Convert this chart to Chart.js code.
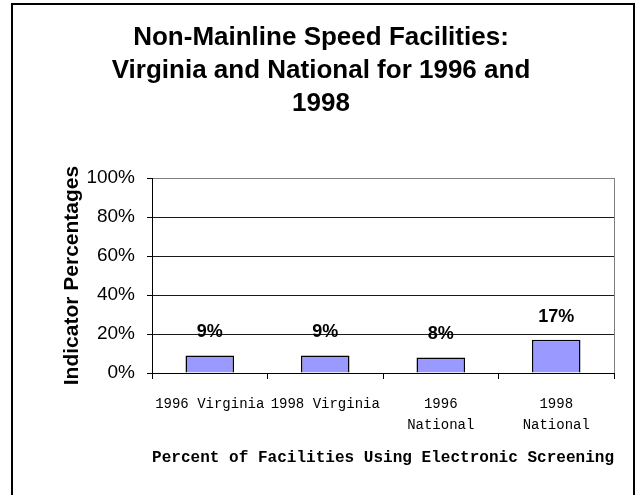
<!DOCTYPE html>
<html>
<head>
<meta charset="utf-8">
<title>Non-Mainline Speed Facilities</title>
<script src="https://cdn.jsdelivr.net/npm/chart.js@4.4.1/dist/chart.umd.min.js"></script>
<style>
    html, body { margin: 0; padding: 0; background: #ffffff; }
    #wrap { width: 638px; height: 495px; }
</style>
</head>
<body>
<div id="wrap"><canvas id="chart" width="638" height="495"></canvas></div>
<script>
// Data
const categories = [['1996 Virginia'], ['1998 Virginia'], ['1996', 'National'], ['1998', 'National']];
const shares = [9, 9, 8, 17];
const shareLabels = ['9%', '9%', '8%', '17%'];
const yTicks = [0, 20, 40, 60, 80, 100];

const titleLines = ['Non-Mainline Speed Facilities:', 'Virginia and National for 1996 and', '1998'];

// Outer frame and right edge of the plot area
const framePlugin = {
    id: 'frame',
    beforeDraw(chart) {
        const ctx = chart.ctx;
        ctx.save();
        ctx.fillStyle = '#ffffff';
        ctx.fillRect(0, 0, chart.width, chart.height);
        ctx.strokeStyle = '#000000';
        ctx.lineWidth = 2;
        ctx.beginPath();
        ctx.moveTo(12, chart.height + 5);
        ctx.lineTo(12, 4);
        ctx.lineTo(634, 4);
        ctx.lineTo(634, chart.height + 5);
        ctx.stroke();
        ctx.restore();
    },
    afterDraw(chart) {
        const a = chart.chartArea;
        const ctx = chart.ctx;
        ctx.save();
        ctx.strokeStyle = '#808080';
        ctx.lineWidth = 1;
        ctx.beginPath();
        ctx.moveTo(Math.round(a.right) + 0.5, a.top);
        ctx.lineTo(Math.round(a.right) + 0.5, a.bottom);
        ctx.stroke();
        ctx.restore();
    }
};

// Value labels above each bar
const valueLabels = {
    id: 'valueLabels',
    afterDatasetsDraw(chart) {
        const ctx = chart.ctx;
        const bars = chart.getDatasetMeta(0).data;
        ctx.save();
        ctx.font = 'bold 18px "Liberation Sans", Arial, sans-serif';
        ctx.fillStyle = '#000000';
        ctx.textAlign = 'center';
        ctx.textBaseline = 'middle';
        bars.forEach((bar, i) => {
            ctx.fillText(shareLabels[i], bar.x, bar.y - 23);
        });
        ctx.restore();
    }
};

new Chart(document.getElementById('chart').getContext('2d'), {
    type: 'bar',
    data: {
        labels: categories,
        datasets: [{
            data: shares,
            backgroundColor: '#9999ff',
            borderColor: '#000000',
            borderWidth: 1.5,
            barPercentage: 0.42,
            categoryPercentage: 1
        }]
    },
    options: {
        responsive: false,
        animation: false,
        devicePixelRatio: 1,
        layout: { padding: { left: 28, right: 24, top: 0, bottom: 0 } },
        plugins: {
            legend: { display: false },
            tooltip: { enabled: false },
            title: {
                display: true,
                text: titleLines,
                color: '#000000',
                font: { family: '"Liberation Sans", Arial, sans-serif', size: 26, weight: 'bold', lineHeight: 1.27 },
                padding: { top: 21, bottom: 58 }
            }
        },
        scales: {
            x: {
                grid: {
                    offset: true,
                    drawOnChartArea: false,
                    color: '#000000',
                    tickLength: 6
                },
                border: { color: '#000000', width: 1 },
                ticks: {
                    color: '#000000',
                    maxRotation: 0,
                    autoSkip: false,
                    padding: 14,
                    font: { family: '"Liberation Mono", "Courier New", monospace', size: 14, lineHeight: 1.55 }
                },
                title: {
                    display: true,
                    text: 'Percent of Facilities Using Electronic Screening',
                    color: '#000000',
                    font: { family: '"Liberation Mono", "Courier New", monospace', size: 16.5, weight: 'bold', lineHeight: 1.2 },
                    padding: { top: 0, bottom: 27 }
                },
                afterFit(scale) { scale.height = 122; }
            },
            y: {
                min: 0,
                max: 100,
                afterBuildTicks(scale) { scale.ticks = yTicks.map(v => ({ value: v })); },
                grid: {
                    color: ctx => (ctx.tick && ctx.tick.value === 100) ? '#808080' : '#1a1a1a',
                    tickColor: '#000000',
                    tickLength: 5
                },
                border: { color: '#000000', width: 1 },
                ticks: {
                    color: '#000000',
                    padding: 12,
                    callback: v => v + '%',
                    font: { family: '"Liberation Sans", Arial, sans-serif', size: 19 }
                },
                title: {
                    display: true,
                    text: 'Indicator Percentages',
                    color: '#000000',
                    font: { family: '"Liberation Sans", Arial, sans-serif', size: 21, weight: 'bold', lineHeight: 1.2 },
                    padding: { top: 32, bottom: 0 }
                },
                afterFit(scale) { scale.width = 124; }
            }
        }
    },
    plugins: [framePlugin, valueLabels]
});
</script>
</body>
</html>
